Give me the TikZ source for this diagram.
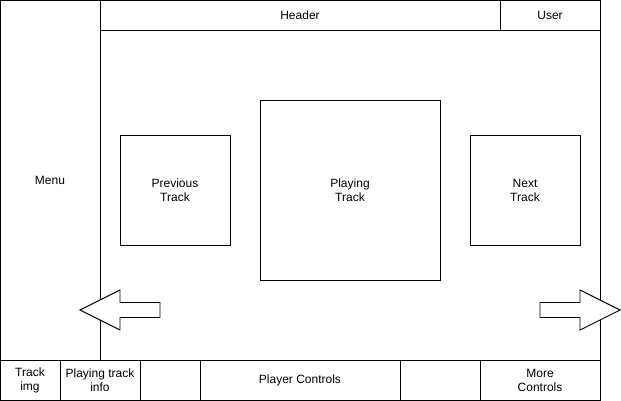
\documentclass[tikz,border=0pt]{standalone}
\usepackage{fontspec}
\setmainfont{Liberation Sans}
\begin{document}
\begin{tikzpicture}[x=1pt,y=-1pt,
  box/.style={draw=black,line width=0.9pt,fill=white,inner sep=0pt,outer sep=0pt,
    align=center,font=\fontsize{12}{14}\selectfont},
  navarrow/.style={draw=black,line width=0.9pt,fill=white,line join=miter}]
\useasboundingbox (0,0) rectangle (621,401);
% side menu and top bar
\node[box,minimum width=100,minimum height=360] (menu) at (50,180) {Menu};
\node[box,minimum width=400,minimum height=30] (header) at (300,15) {Header};
\node[box,minimum width=100,minimum height=30] (user) at (550,15) {User};
% main area
\node[box,minimum width=500,minimum height=330] (main) at (350,195) {};
\node[box,minimum width=110,minimum height=110] (prev) at (175,190) {Previous\\Track};
\node[box,minimum width=180,minimum height=180] (play) at (350,190) {Playing\\Track};
\node[box,minimum width=110,minimum height=110] (next) at (525,190) {Next\\Track};
% bottom bar
\node[box,minimum width=60,minimum height=40] (img) at (30,380) {Track\\img};
\node[box,minimum width=80,minimum height=40] (info) at (100,380) {Playing track\\info};
\node[box,minimum width=60,minimum height=40] (gap1) at (170,380) {};
\node[box,minimum width=200,minimum height=40] (controls) at (300,380) {Player Controls};
\node[box,minimum width=80,minimum height=40] (gap2) at (440,380) {};
\node[box,minimum width=120,minimum height=40] (more) at (540,380) {More\\Controls};
% navigation arrows
\draw[navarrow] (80,310) -- (120,290) -- (120,302.5) -- (160,302.5) -- (160,317.5)
  -- (120,317.5) -- (120,330) -- cycle;
\draw[navarrow] (620,310) -- (580,290) -- (580,302.5) -- (540,302.5) -- (540,317.5)
  -- (580,317.5) -- (580,330) -- cycle;
\end{tikzpicture}
\end{document}
